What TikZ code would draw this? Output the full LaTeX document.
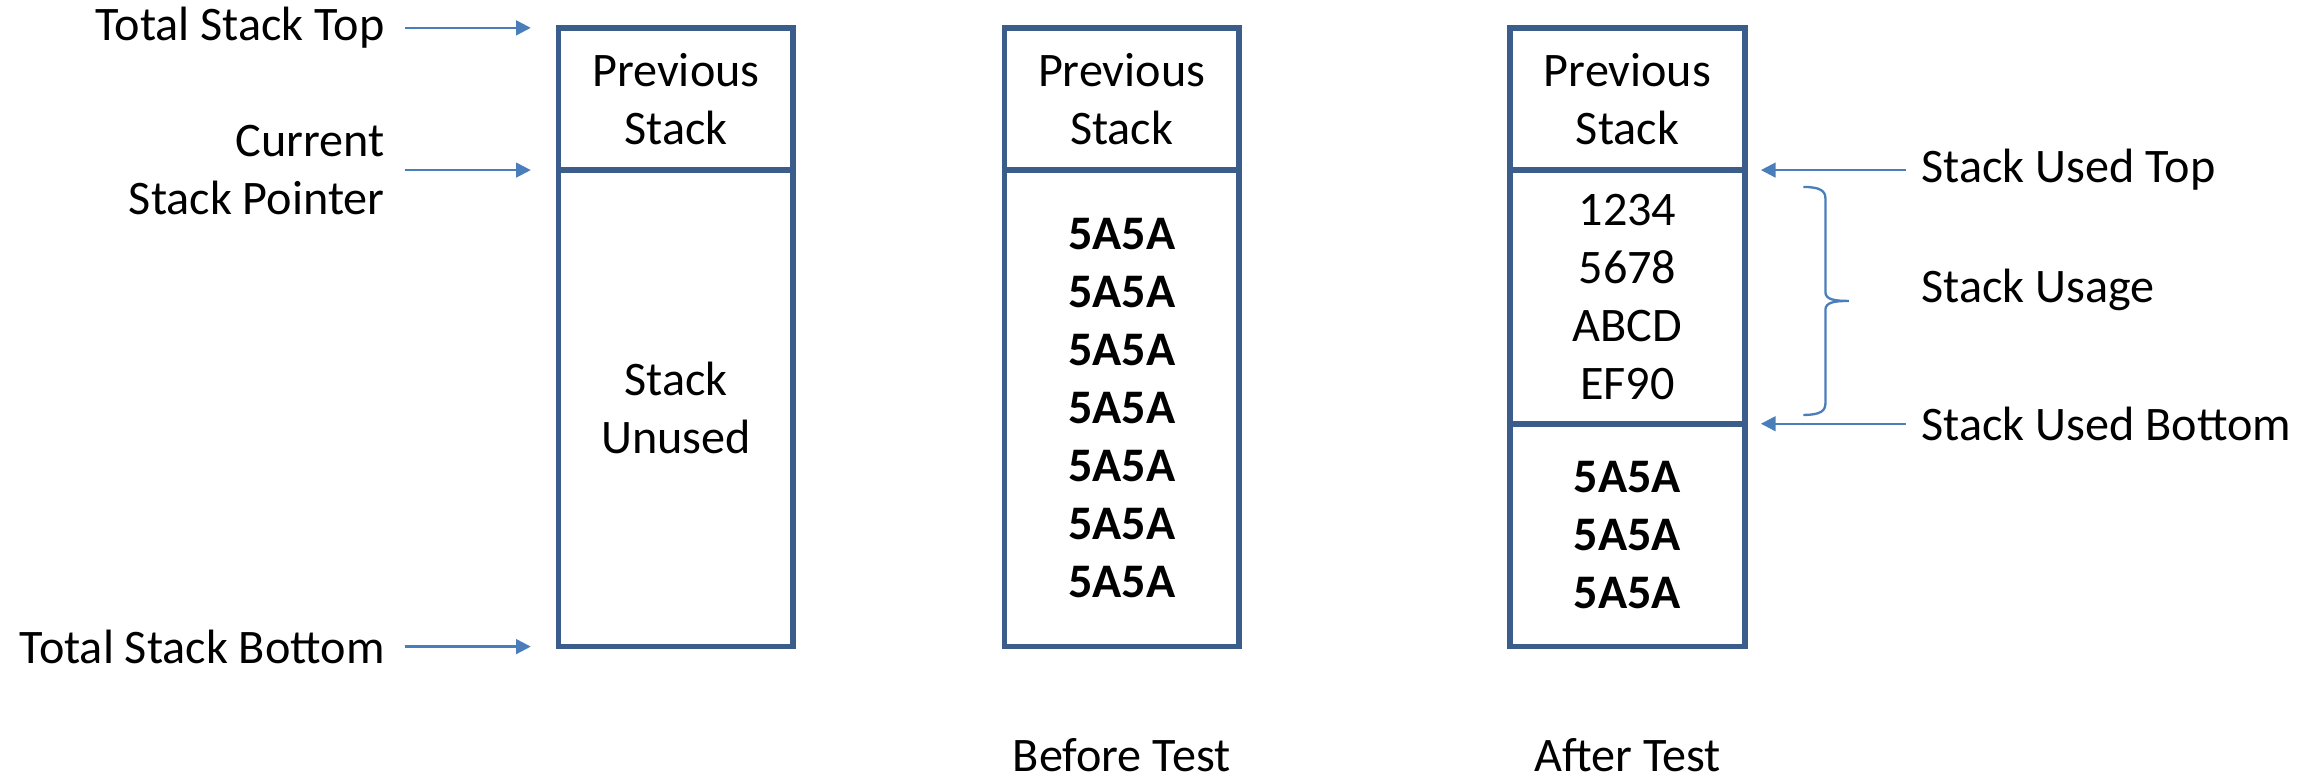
\documentclass[tikz,border=0pt]{standalone}
\usepackage{fontspec}
\setmainfont{Carlito}
\usetikzlibrary{positioning,arrows.meta}

\definecolor{boxblue}{HTML}{3B5D8C}
\definecolor{arrblue}{HTML}{4A7EBB}

\tikzset{
  cell/.style={draw=boxblue, line width=1.1pt, minimum width=1.6cm, inner sep=0pt, outer sep=0pt,
    align=center, font=\fontsize{9.35}{11.25}\selectfont},
  lbl/.style={inner sep=0pt, font=\fontsize{9.35}{11.25}\selectfont},
  arr/.style={draw=arrblue, line width=0.45pt, -{Triangle[length=0.1cm,width=0.1cm]}},
  brc/.style={draw=arrblue, line width=0.45pt}
}

\begin{document}
\begin{tikzpicture}
  \useasboundingbox (0,0) rectangle (15.68,-5.34);

  % stacks
  \node[cell, minimum height=0.97cm] (prev1) at (4.61,-0.675) {Previous\\Stack};
  \node[cell, minimum height=3.25cm] (unused1) [below=0pt of prev1] {Stack\\Unused};

  \node[cell, minimum height=0.97cm] (prev2) [right=1.44cm of prev1] {Previous\\Stack};
  \node[cell, minimum height=3.25cm] (fill2) [below=0pt of prev2]
    {\textbf{5A5A}\\\textbf{5A5A}\\\textbf{5A5A}\\\textbf{5A5A}\\\textbf{5A5A}\\\textbf{5A5A}\\\textbf{5A5A}};

  \node[cell, minimum height=0.97cm] (prev3) [right=1.85cm of prev2] {Previous\\Stack};
  \node[cell, minimum height=1.73cm] (used3) [below=0pt of prev3] {1234\\5678\\ABCD\\EF90};
  \node[cell, minimum height=1.52cm] (free3) [below=0pt of used3]
    {\textbf{5A5A}\\\textbf{5A5A}\\\textbf{5A5A}};

  % labels
  \node[lbl, left=1.18cm of prev1.north west] (tsTop) {Total Stack Top};
  \node[lbl, left=1.18cm of unused1.north west, align=right] (curSP) {Current\\Stack Pointer};
  \node[lbl, left=1.18cm of unused1.south west] (tsBot) {Total Stack Bottom};

  \node[lbl, right=1.2cm of used3.north east] (usedTop) {Stack Used Top};
  \node[lbl, right=1.2cm of used3.east, yshift=0.05cm] (usage) {Stack Usage};
  \node[lbl, right=1.2cm of used3.south east] (usedBot) {Stack Used Bottom};

  \node[lbl, below=0.62cm of fill2] (before) {Before Test};
  \node[lbl, below=0.62cm of free3] (after) {After Test};

  \path
    (tsTop.east) edge[arr, shorten <=0.13cm, shorten >=0.19cm] (tsTop.east -| prev1.west)
    (curSP.east) edge[arr, shorten <=0.13cm, shorten >=0.19cm] (curSP.east -| unused1.west)
    (tsBot.east) edge[arr, shorten <=0.13cm, shorten >=0.19cm] (tsBot.east -| unused1.west)
    (usedTop.west) edge[arr, shorten <=0.1cm, shorten >=0.11cm] (usedTop.west -| used3.east)
    (usedBot.west) edge[arr, shorten <=0.1cm, shorten >=0.11cm] (usedBot.west -| used3.east);

  % brace
  \coordinate (brTop) at ([xshift=0.4cm, yshift=-0.115cm]used3.north east);
  \coordinate (brBot) at ([xshift=0.4cm, yshift=0.06cm]used3.south east);
  \draw[brc] (brTop) .. controls +(0.12,0) and +(0,0.05) .. ++(0.15,-0.08)
    -- ++(0,-0.6375) .. controls +(0,-0.05) and +(-0.1,0) .. ++(0.16,-0.06)
    .. controls +(-0.1,0) and +(0,0.05) .. ++(-0.16,-0.06)
    -- ++(0,-0.6375) .. controls +(0,-0.05) and +(0.12,0) .. (brBot);
\end{tikzpicture}
\end{document}
